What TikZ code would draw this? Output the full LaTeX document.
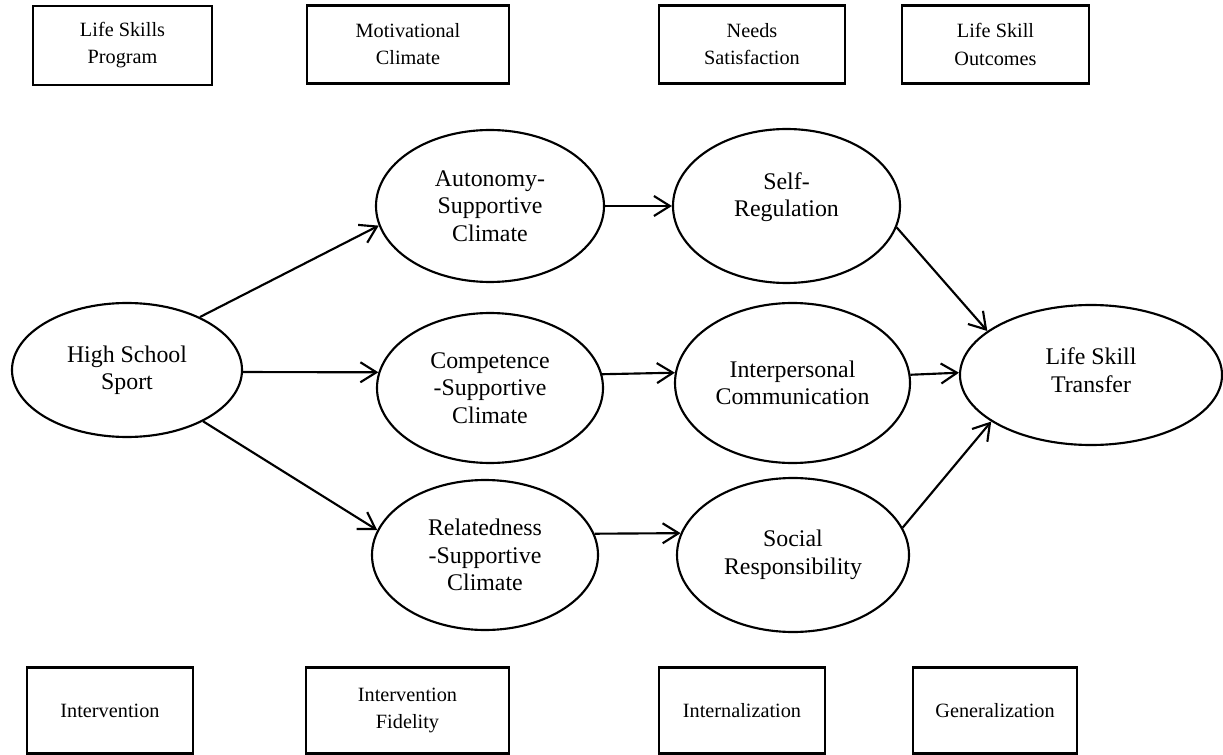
\documentclass[tikz,border=0pt]{standalone}
\usepackage{fontspec}
\setmainfont{Liberation Serif}
\usetikzlibrary{shapes.geometric,arrows.meta}
\tikzset{
  boxnode/.style 2 args={draw, rectangle, line width=1.6pt, minimum width=#1*0.75pt, minimum height=#2*0.75pt, inner sep=0pt, align=center, font=\fontsize{15.2}{20.3}\selectfont},
  ellnode/.style 2 args={draw, ellipse, line width=1.6pt, minimum width=2*#1*0.75pt, minimum height=2*#2*0.75pt, inner sep=0pt, align=center, font=\fontsize{17.9}{20.6}\selectfont},
  elltext/.style={align=center, inner sep=0pt, font=\fontsize{17.9}{20.6}\selectfont},
  conn/.style={line width=1.6pt, -{Straight Barb[length=12pt,width=15pt,line width=1.6pt]}}
}
\begin{document}
\begin{tikzpicture}[x=0.75pt,y=-0.75pt]
\useasboundingbox (0,0) rectangle (1223,755);
% top boxes
\node[boxnode={179}{79}] (b1) at (122.5,45.5) {Life Skills\\Program};
\node[boxnode={202}{78}] (b2) at (408,44.5) {Motivational\\Climate};
\node[boxnode={186}{78}] (b3) at (752,44.5) {Needs\\Satisfaction};
\node[boxnode={187}{78}] (b4) at (995.5,44.5) {Life Skill\\Outcomes};
% bottom boxes
\node[boxnode={166}{86}] (b5) at (110,710.5) {Intervention};
\node[boxnode={203}{86}] (b6) at (407.5,710.5) {Intervention\\Fidelity};
\node[boxnode={166}{86}] (b7) at (742,710.5) {Internalization};
\node[boxnode={164}{86}] (b8) at (995,710.5) {Generalization};
% ellipses
\node[ellnode={115}{67}] (hss) at (127,370) {High School\\Sport};
\node[ellnode={114}{76}] (aut) at (490,206) {Autonomy-\\Supportive\\Climate};
\node[ellnode={113}{75}] (com) at (490,388) {Competence\\-Supportive\\Climate};
\node[ellnode={113}{75}] (rel) at (485,555) {Relatedness\\-Supportive\\Climate};
\node[ellnode={113.5}{77}, label={[elltext, yshift=9*0.75pt]center:Self-\\Regulation}] (sr) at (786.5,206) {};
\node[ellnode={117.5}{80}] (ic) at (792.5,383) {Interpersonal\\Communication};
\node[ellnode={116}{77}] (soc) at (793,555) {Social\\Responsibility};
\node[ellnode={131}{70}, label={[elltext, yshift=5*0.75pt]center:Life Skill\\Transfer}] (lst) at (1091,375) {};
% connectors
\draw[conn] (hss.36) -- (aut.190);
\draw[conn] (hss.-1.5) -- (com.172);
\draw[conn] (hss.-34) -- (rel.167.7);
\draw[conn] (aut) -- (sr);
\draw[conn] (com.7.6) -- (ic.175);
\draw[conn] (rel.11.3) -- (soc.169);
\draw[conn] (sr.-11.5) -- (lst.157.5);
\draw[conn] (ic.4.9) -- (lst.179);
\draw[conn] (soc.14.8) -- (lst.205.2);
\end{tikzpicture}
\end{document}
